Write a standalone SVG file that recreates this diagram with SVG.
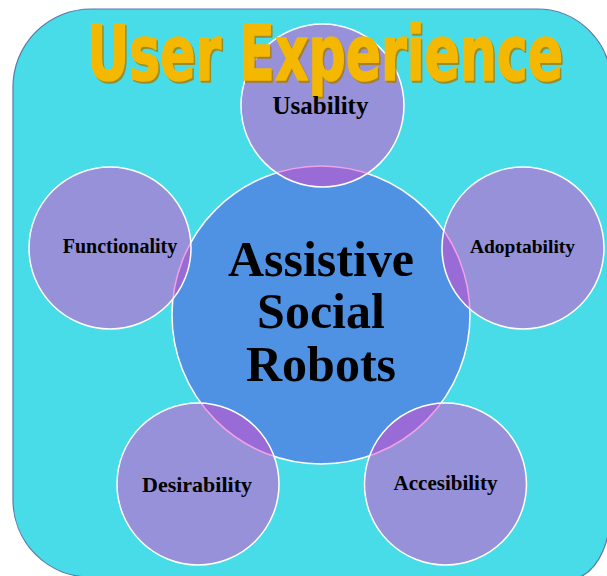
<svg xmlns="http://www.w3.org/2000/svg" width="607" height="576" viewBox="0 0 607 576">
  <style>
    .panel { fill: #48dce8; stroke: #5b78a8; stroke-width: 1.2; }
    .hub { fill: #4f91e3; stroke: #ffffff; stroke-width: 1.5; }
    .petal { fill: #e445ca; fill-opacity: 0.5; stroke: #ffffff; stroke-width: 1.5; }
    .label { font-family: "Liberation Serif", "Times New Roman", serif; font-weight: bold; fill: #000000; text-anchor: middle; }
    .hub-text { font-family: "Liberation Serif", "Times New Roman", serif; font-weight: bold; font-size: 50px; fill: #000000; text-anchor: middle; }
    .title { font-family: "DejaVu Sans Condensed", "DejaVu Sans", "Liberation Sans", sans-serif; font-weight: bold; font-size: 76px; stroke-width: 1.6; stroke-linejoin: round; }
  </style>

  <!-- rounded background panel -->
  <path class="panel" d="M13,87 A78,78 0 0 1 91,9 H537 A74,74 0 0 1 611,83 V505 C611,540 600,568 580,577 H90 A77,77 0 0 1 13,500 Z"/>

  <!-- central node -->
  <g id="assistive-social-robots">
    <circle class="hub" cx="321" cy="315" r="149"/>
  </g>

  <!-- surrounding nodes -->
  <g id="usability">
    <circle class="petal" cx="322.5" cy="105.5" r="81.5"/>
  </g>
  <g id="functionality">
    <circle class="petal" cx="110" cy="248" r="81"/>
  </g>
  <g id="adoptability">
    <circle class="petal" cx="523" cy="248" r="81"/>
  </g>
  <g id="desirability">
    <circle class="petal" cx="198" cy="484" r="81"/>
  </g>
  <g id="accesibility">
    <circle class="petal" cx="445.5" cy="484" r="81"/>
  </g>

  <!-- connectors: none, the nodes overlap directly -->
  <g id="connectors"/>

  <!-- heading with bevelled gold lettering -->
  <g id="title">
    <text class="title" x="88.5" y="81.5" textLength="476" lengthAdjust="spacingAndGlyphs" fill="#a87c00" stroke="#a87c00" opacity="0.8">User Experience</text>
    <text class="title" x="87" y="80" textLength="476" lengthAdjust="spacingAndGlyphs" fill="#f5b800" stroke="#f5b800">User Experience</text>
  </g>

  <!-- labels -->
  <g id="labels">
    <text class="label" x="320.5" y="114" font-size="25">Usability</text>
    <text class="label" x="120" y="253" font-size="20">Functionality</text>
    <text class="label" x="522.5" y="253" font-size="19.5">Adoptability</text>
    <text class="label" x="197" y="492" font-size="22">Desirability</text>
    <text class="label" x="445.5" y="490" font-size="21">Accesibility</text>
    <text class="hub-text" x="321" y="276">Assistive</text>
    <text class="hub-text" x="321" y="328">Social</text>
    <text class="hub-text" x="321" y="381">Robots</text>
  </g>
</svg>
